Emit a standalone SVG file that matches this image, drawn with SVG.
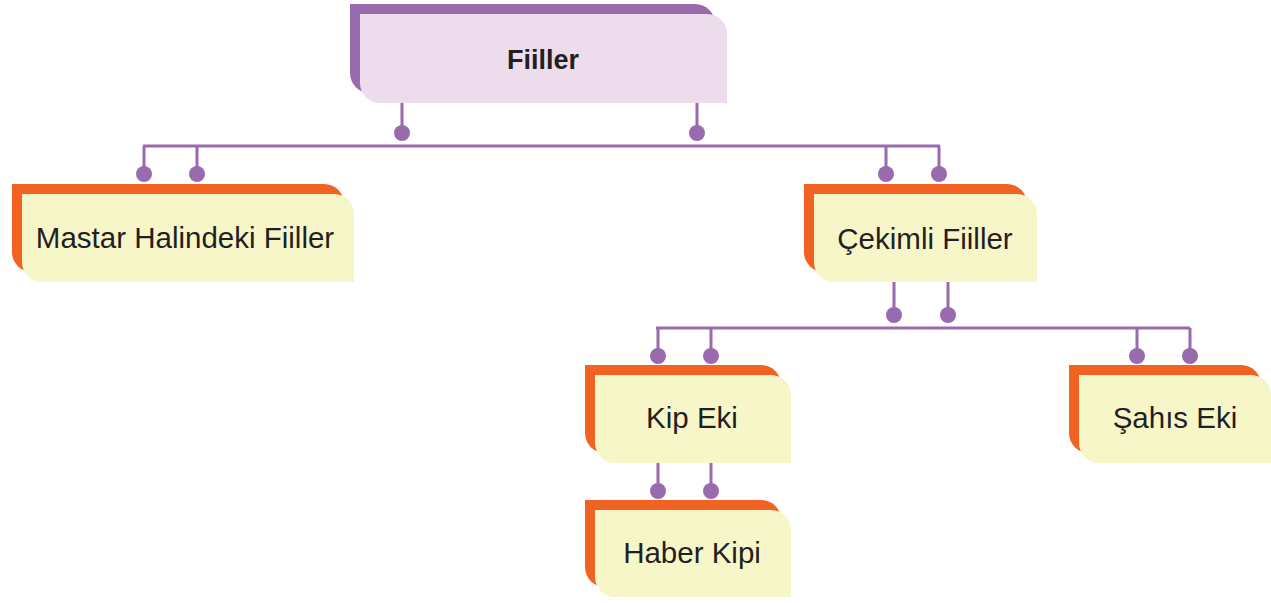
<svg xmlns="http://www.w3.org/2000/svg" width="1271" height="603" viewBox="0 0 1271 603">
<style>
.bk-p{fill:#9a6aae}
.fr-p{fill:#ecdcec}
.bk-o{fill:#f26223}
.fr-o{fill:#f7f6c9}
.ln{stroke:#9a6aae;stroke-width:3;fill:none}
.dot{fill:#9a6aae}
.t{font-family:"Liberation Sans",Arial,sans-serif;font-size:29.5px;fill:#231f20;text-anchor:middle}
.tb{font-weight:bold;font-size:27px}
</style>
<rect width="1271" height="603" fill="#ffffff"/>
<g id="connectors">
<path class="ln" d="M402,103V133M697,103V133M143,146H940M144,146V174M197,146V174M886,146V174M939,146V174"/>
<path class="ln" d="M894,282V315M948,282V315M656,328H1190M658,328V356M711,328V356M1137,328V356M1190,328V356"/>
<path class="ln" d="M658,463V491M711,463V491"/>
<g class="dot">
<circle cx="402" cy="133" r="8"/><circle cx="697" cy="133" r="8"/>
<circle cx="144" cy="174" r="8"/><circle cx="197" cy="174" r="8"/>
<circle cx="886" cy="174" r="8"/><circle cx="939" cy="174" r="8"/>
<circle cx="894" cy="315" r="8"/><circle cx="948" cy="315" r="8"/>
<circle cx="658" cy="356" r="8"/><circle cx="711" cy="356" r="8"/>
<circle cx="1137" cy="356" r="8"/><circle cx="1190" cy="356" r="8"/>
<circle cx="658" cy="491" r="8"/><circle cx="711" cy="491" r="8"/>
</g>
</g>
<g id="node-fiiller">
<path class="bk-p" d="M350,4H695A20,20 0 0 1 715,24V93H370A20,20 0 0 1 350,73Z"/>
<path class="fr-p" d="M360,14H707A20,20 0 0 1 727,34V103H380A20,20 0 0 1 360,83Z"/>
<text class="t tb" x="543" y="69">Fiiller</text>
</g>
<g id="node-mastar">
<path class="bk-o" d="M12,184H324A20,20 0 0 1 344,204V272H32A20,20 0 0 1 12,252Z"/>
<path class="fr-o" d="M22,194H334A20,20 0 0 1 354,214V282H42A20,20 0 0 1 22,262Z"/>
<text class="t" x="185" y="248">Mastar Halindeki Fiiller</text>
</g>
<g id="node-cekimli">
<path class="bk-o" d="M804,184H1007A20,20 0 0 1 1027,204V272H824A20,20 0 0 1 804,252Z"/>
<path class="fr-o" d="M814,194H1017A20,20 0 0 1 1037,214V282H834A20,20 0 0 1 814,262Z"/>
<text class="t" x="925" y="249">Çekimli Fiiller</text>
</g>
<g id="node-kip">
<path class="bk-o" d="M585,365H761A20,20 0 0 1 781,385V453H605A20,20 0 0 1 585,433Z"/>
<path class="fr-o" d="M595,375H771A20,20 0 0 1 791,395V463H615A20,20 0 0 1 595,443Z"/>
<text class="t" x="692" y="428">Kip Eki</text>
</g>
<g id="node-sahis">
<path class="bk-o" d="M1069,365H1241A20,20 0 0 1 1261,385V453H1089A20,20 0 0 1 1069,433Z"/>
<path class="fr-o" d="M1079,375H1251A20,20 0 0 1 1271,395V463H1099A20,20 0 0 1 1079,443Z"/>
<text class="t" x="1175" y="428">Şahıs Eki</text>
</g>
<g id="node-haber">
<path class="bk-o" d="M585,500H761A20,20 0 0 1 781,520V587H605A20,20 0 0 1 585,567Z"/>
<path class="fr-o" d="M595,510H771A20,20 0 0 1 791,530V597H615A20,20 0 0 1 595,577Z"/>
<text class="t" x="692" y="563">Haber Kipi</text>
</g>
</svg>
